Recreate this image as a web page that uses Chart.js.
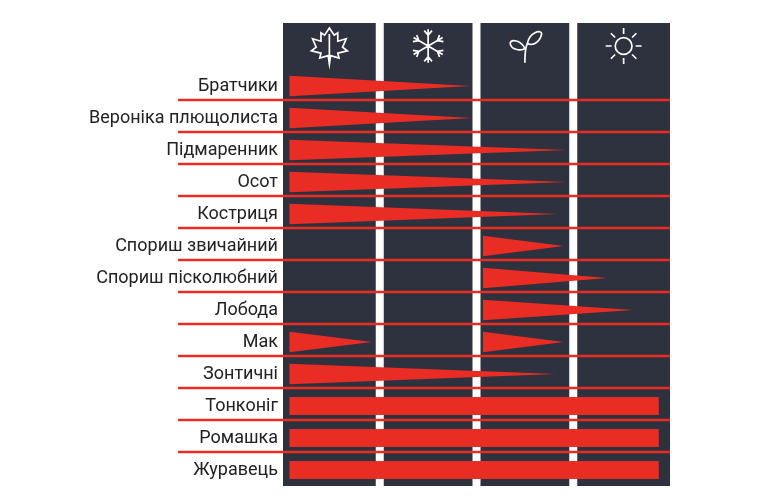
<!DOCTYPE html>
<html><head><meta charset="utf-8">
<script src="https://cdn.jsdelivr.net/npm/chart.js@4/dist/chart.umd.min.js"></script>
<style>html,body{margin:0;background:#fff}</style>
</head><body><canvas id="c" width="770" height="500"></canvas>
<script>
const weeds=["Братчики","Вероніка плющолиста","Підмаренник","Осот","Костриця","Спориш звичайний","Спориш пісколюбний","Лобода","Мак","Зонтичні","Тонконіг","Ромашка","Журавець"];
const seasons=["Осінь","Зима","Весна","Літо"];
// months from start of autumn (0..12)
const startA=[0.2,0.2,0.2,0.2,0.2,6.2,6.2,6.2,0.2,0.2,0.2,0.2,0.2];
const endA  =[5.8,5.85,8.8,8.8,8.5,8.7,10.05,10.85,2.75,8.45,11.65,11.65,11.65];
const startB=[null,null,null,null,null,null,null,null,6.2,null,null,null,null];
const endB  =[null,null,null,null,null,null,null,null,8.7,null,null,null,null];
const shape =["w","w","w","w","w","w","w","w","w","w","r","r","r"];
const RED="#ea2d24", DARK="#2e323e";

const deco={id:"deco",
beforeDatasetsDraw(ch){
  const {ctx,scales:{x,y},chartArea:a}=ch;
  ctx.save();
  for(let s=0;s<4;s++){
    const l=x.getPixelForValue(s*3)+(s?4:0), r=x.getPixelForValue(s*3+3)-(s<3?4:0);
    ctx.fillStyle=DARK; ctx.fillRect(l,23,r-l,a.bottom-23);
    drawIcon(ctx,s,(l+r)/2,46);
  }
  ctx.strokeStyle=RED; ctx.lineWidth=2.5;
  for(let i=0;i<weeds.length-1;i++){
    const py=y.getPixelForValue(i+0.44);
    ctx.beginPath();ctx.moveTo(178,py);ctx.lineTo(a.right,py);ctx.stroke();
  }
  ctx.fillStyle=RED;
  const seg=(i,s,e)=>{
    const x0=x.getPixelForValue(s),x1=x.getPixelForValue(e);
    if(shape[i]==="r"){
      const t=y.getPixelForValue(i-0.28),b=y.getPixelForValue(i+0.28);
      ctx.fillRect(x0,t,x1-x0,b-t);
    }else{
      const t=y.getPixelForValue(i-0.32),b=y.getPixelForValue(i+0.32),m=y.getPixelForValue(i);
      ctx.beginPath();ctx.moveTo(x0,t);ctx.lineTo(x1,m);ctx.lineTo(x0,b);ctx.closePath();ctx.fill();
    }
  };
  weeds.forEach((w,i)=>{ if(startA[i]!=null)seg(i,startA[i],endA[i]); if(startB[i]!=null)seg(i,startB[i],endB[i]); });
  ctx.restore();
}};
function drawIcon(ctx,s,cx,cy){
  ctx.save();ctx.strokeStyle="#fff";ctx.lineWidth=1.4;ctx.translate(cx,cy);ctx.scale(1.2,1.2);ctx.beginPath();
  if(s===1){
    for(let k=0;k<6;k++){const a=k*Math.PI/3+Math.PI/2;const c=Math.cos(a),d=Math.sin(a);
      ctx.moveTo(0,0);ctx.lineTo(14*c,14*d);
      const px=9*c,py=9*d;
      for(const sg of[-1,1]){const b=a+sg*0.7;ctx.moveTo(px,py);ctx.lineTo(px+5*Math.cos(b),py+5*Math.sin(b));}
    }
  }else if(s===3){
    ctx.arc(0,0,7,0,Math.PI*2);
    for(let k=0;k<8;k++){const a=k*Math.PI/4;ctx.moveTo(10*Math.cos(a),10*Math.sin(a));ctx.lineTo(15*Math.cos(a),15*Math.sin(a));}
  }else if(s===2){
    ctx.moveTo(0,14);ctx.quadraticCurveTo(0,2,2,-2);
    ctx.moveTo(0,2);ctx.bezierCurveTo(-4,-6,-14,-6,-12,-1);ctx.bezierCurveTo(-10,4,-2,4,0,2);
    ctx.moveTo(2,-2);ctx.bezierCurveTo(4,-12,14,-14,14,-10);ctx.bezierCurveTo(12,-2,6,0,2,-2);
  }else{
    const p=[[0,-15],[4,-9],[7,-11],[7,-4],[14,-6],[11,1],[15,4],[7,6],[8,10],[1,8],[0,15],[-1,8],[-8,10],[-7,6],[-15,4],[-11,1],[-14,-6],[-7,-4],[-7,-11],[-4,-9]];
    p.forEach((q,k)=>k?ctx.lineTo(q[0],q[1]):ctx.moveTo(q[0],q[1]));ctx.closePath();
    ctx.moveTo(0,-10);ctx.lineTo(0,15);
  }
  ctx.stroke();ctx.restore();
}
new Chart(document.getElementById("c"),{
  type:"scatter",
  data:{datasets:[{data:weeds.map((w,i)=>({x:startA[i],y:i})),pointRadius:0,showLine:false}]},
  options:{responsive:false,animation:false,devicePixelRatio:1,
    layout:{padding:{left:0,right:100,top:70,bottom:14}},
    plugins:{legend:{display:false},tooltip:{enabled:false}},
    scales:{
      x:{type:"linear",min:0,max:12,display:false},
      y:{type:"linear",min:-0.5,max:12.5,reverse:true,
        afterFit(s){s.width=283;},
        afterBuildTicks(s){s.ticks=weeds.map((w,i)=>({value:i}));},
        grid:{display:false},border:{display:false},
        ticks:{padding:-3,color:"#222",font:{family:"Roboto",size:18},callback:(v)=>weeds[v]}}
    }},
  plugins:[deco]});
</script>
</body></html>
